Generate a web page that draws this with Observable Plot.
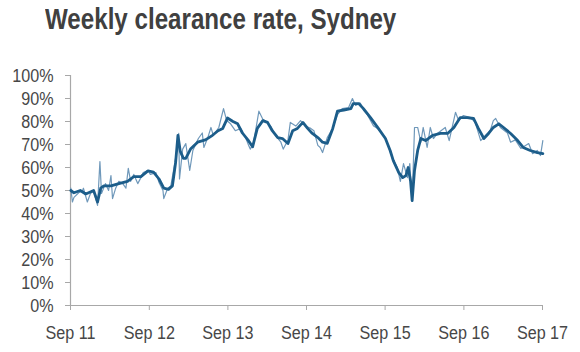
<!DOCTYPE html>
<html>
<head>
<meta charset="utf-8">
<script src="https://cdn.jsdelivr.net/npm/d3@7"></script>
<script src="https://cdn.jsdelivr.net/npm/@observablehq/plot@0.6"></script>
<style>
  html, body { margin: 0; padding: 0; background: #fff; }
  #title {
    box-sizing: border-box; height: 46px; padding: 1px 0 0 45px;
    font-family: "Liberation Sans", Arial, sans-serif; font-weight: bold;
    font-size: 30px; line-height: 36px; color: #404040; white-space: nowrap;
  }
  #title span { display: inline-block; transform: scaleX(0.805); transform-origin: left center; }
  #chart svg { display: block; }
</style>
</head>
<body>
<div id="title"><span>Weekly clearance rate, Sydney</span></div>
<div id="chart"></div>
<script>
// Weekly series (thin line): decimal year, clearance rate %
const weeklyTime = [2011.67,2011.69,2011.71,2011.77,2011.82,2011.83,2011.88,2011.92,2011.96,2012.01,2012.04,2012.06,2012.11,2012.15,2012.18,2012.20,2012.24,2012.28,2012.33,2012.37,2012.40,2012.43,2012.47,2012.52,2012.56,2012.59,2012.65,2012.68,2012.75,2012.79,2012.84,2012.85,2012.90,2012.94,2012.98,2013.01,2013.04,2013.05,2013.09,2013.13,2013.18,2013.22,2013.26,2013.29,2013.34,2013.36,2013.41,2013.45,2013.48,2013.55,2013.61,2013.65,2013.70,2013.76,2013.83,2013.89,2013.93,2013.95,2013.99,2014.06,2014.11,2014.15,2014.21,2014.27,2014.34,2014.37,2014.43,2014.46,2014.53,2014.59,2014.65,2014.72,2014.76,2014.81,2014.84,2014.87,2014.93,2015.00,2015.06,2015.12,2015.20,2015.25,2015.29,2015.35,2015.39,2015.44,2015.52,2015.57,2015.67,2015.76,2015.82,2015.86,2015.90,2015.95,2015.98,2016.01,2016.04,2016.08,2016.12,2016.15,2016.20,2016.24,2016.28,2016.33,2016.43,2016.48,2016.56,2016.60,2016.66,2016.75,2016.81,2016.88,2016.97,2017.00,2017.04,2017.07,2017.13,2017.22,2017.26,2017.32,2017.39,2017.49,2017.54,2017.60,2017.64,2017.67];
const weeklyRate = [51,45,47,49,50,51,45,48.7,50,43.5,62.6,48.7,53,50,56.5,46.5,51,54,53,51,59.6,54,57,53,55.6,57.8,58.7,57,57.8,53.5,50,46.5,51,52,60,66,74.8,55,68,70.4,58.7,67.4,70.4,72.6,75,68.7,73,77.4,74,77.4,85.6,80.4,79,76,77,73,69.6,68,70.4,84.5,81,80,78,74,71,68,72,79.6,78,80.4,78,77,76,69.6,68.7,66.5,73,77,83,85.6,86,90,87,88,85,83,78,77,73,64,60,54,61.7,55.6,61.7,45.6,77.4,77.4,71,77.4,68.7,77.4,72.6,74.8,77.4,71.7,84,80.4,82.6,81.7,79.6,71.7,75,76,80.4,81.3,77.4,75,71,72,68.3,70.4,66,67.4,65.2,71.7];

// Smoothed series (thick line)
const smoothTime = [2011.67,2011.71,2011.79,2011.86,2011.96,2012.01,2012.05,2012.09,2012.18,2012.28,2012.39,2012.47,2012.56,2012.65,2012.72,2012.79,2012.85,2012.91,2012.96,2013.00,2013.03,2013.06,2013.10,2013.13,2013.19,2013.28,2013.38,2013.47,2013.54,2013.60,2013.66,2013.73,2013.79,2013.85,2013.92,2013.98,2014.04,2014.11,2014.17,2014.23,2014.30,2014.36,2014.43,2014.49,2014.55,2014.62,2014.68,2014.74,2014.81,2014.87,2014.93,2015.00,2015.06,2015.14,2015.23,2015.26,2015.33,2015.39,2015.48,2015.58,2015.67,2015.73,2015.77,2015.84,2015.89,2015.93,2015.96,2015.99,2016.01,2016.04,2016.08,2016.12,2016.18,2016.27,2016.37,2016.46,2016.54,2016.62,2016.71,2016.79,2016.85,2016.92,2016.98,2017.04,2017.11,2017.17,2017.26,2017.35,2017.42,2017.51,2017.60,2017.67];
const smoothRate = [50,49,50,48.5,50,45,51,52,52,53,54,56,56,58.5,58,55,51,50.5,52,62,74,67,64,64,68,71,72,74,76,77,81.5,80,79,75,72,69,77,80.4,79.6,76,73,72.6,70.4,76,77,79.6,77,74.8,73,71,70.5,77,84.5,85,85.6,87.8,87.8,85.6,81.7,77,72.6,67.4,63,57.8,55.6,56.5,60,54,45.6,58.7,67.4,72.6,71.7,74,74.8,74.8,77.4,81.7,81.7,81.3,77,72.6,74.8,77.4,79,77.4,74.8,71.7,68.7,67.4,66.5,66];

const xTickYears = [2011,2012,2013,2014,2015,2016,2017];
const xTickLabels = ["Sep 11","Sep 12","Sep 13","Sep 14","Sep 15","Sep 16","Sep 17"];
const yTicks = [0,10,20,30,40,50,60,70,80,90,100];
const yTickLabels = ["0%","10%","20%","30%","40%","50%","60%","70%","80%","90%","100%"];

const toDate = t => {
  const y = Math.floor(t);
  const a = Date.UTC(y, 0, 1), b = Date.UTC(y + 1, 0, 1);
  return new Date(a + (t - y) * (b - a));
};
const weekly = weeklyTime.map((t, i) => ({date: toDate(t), value: weeklyRate[i]}));
const smooth = smoothTime.map((t, i) => ({date: toDate(t), value: smoothRate[i]}));
const xTicks = xTickYears.map(y => new Date(Date.UTC(y, 8, 1)));

const axisColor = "#a8a8a8";
const textColor = "#474747";

const svg = Plot.plot({
  width: 580,
  height: 306,
  marginTop: 29,
  marginBottom: 47,
  marginLeft: 70,
  marginRight: 38,
  style: {fontFamily: "'Liberation Sans', Arial, sans-serif", fontSize: "19px", color: textColor, background: "#fff"},
  x: {type: "utc", domain: [xTicks[0], xTicks[xTicks.length - 1]]},
  y: {domain: [0, 100]},
  marks: [
    Plot.ruleX([xTicks[0]], {y1: 0, y2: 100, stroke: axisColor, strokeWidth: 1.2}),
    Plot.ruleY([0], {stroke: axisColor, strokeWidth: 1.2}),
    Plot.axisY({
      ticks: yTicks, tickSize: 5, tickPadding: 12, stroke: axisColor, fill: textColor,
      tickFormat: d => yTickLabels[yTicks.indexOf(d)], label: null
    }),
    Plot.axisX({
      ticks: xTicks, tickSize: 5, tickPadding: 15, stroke: axisColor, fill: textColor,
      tickFormat: d => xTickLabels[xTicks.findIndex(t => +t === +d)], label: null
    }),
    Plot.line(weekly, {x: "date", y: "value", stroke: "#6f98ba", strokeWidth: 1.2}),
    Plot.line(smooth, {x: "date", y: "value", stroke: "#1c5d8a", strokeWidth: 2.8, strokeLinejoin: "round"})
  ]
});

// horizontally condense the tick labels to match the narrow typeface of the reference
svg.querySelectorAll("g[aria-label$='tick label'] text").forEach(t => {
  let tr = t.getAttribute("transform") || "";
  const x = t.getAttribute("x");
  if (x !== null && !isNaN(+x)) { tr += ` translate(${+x},0)`; t.removeAttribute("x"); }
  t.setAttribute("transform", `${tr} scale(0.85,1)`);
});

document.getElementById("chart").appendChild(svg);
</script>
</body>
</html>
